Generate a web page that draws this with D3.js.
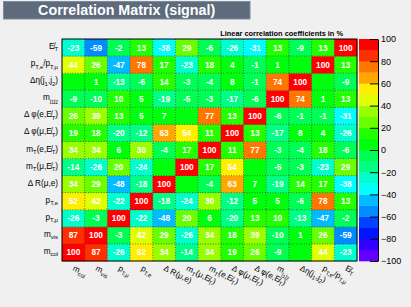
<!DOCTYPE html>
<html><head><meta charset="utf-8">
<script src="https://cdn.jsdelivr.net/npm/d3@7"></script>
<style>
html,body{margin:0;padding:0;background:#f0f0f0;}
svg{display:block;font-family:"Liberation Sans",Arial,Helvetica,sans-serif;}
</style>
</head><body>
<svg id="c" width="411" height="307"></svg>
<script>
// ---- data ----
const variables = ["m_col","m_vis","pT_mu","pT_e","dR_mu_e","mT_mu_MET","mT_e_MET",
                   "dphi_mu_MET","dphi_e_MET","m_jj","deta_jj","pTe_over_pTmu","MET"];
// correlation coefficients in %, row i / column j follow the order of `variables`
const correlations = [
  [100,  87, -26,  52,  34, -14,  34,  19,  26,  -9,   0,  44, -23],
  [ 87, 100,  -3,  42,  29, -26,  34,  18,  39, -10,   1,  26, -59],
  [-26,  -3, 100, -22, -48,  20,   6, -20,  13,  10, -13, -47,  -2],
  [ 52,  42, -22, 100, -18, -24,  30, -12,   5,   5,  -6,  78,  13],
  [ 34,  29, -48, -18, 100,   0,  -4,  63,   7, -19,  14,  17, -38],
  [-14, -26,  20, -24,   0, 100,  17,  54,   0,  -5,  -3, -23,  29],
  [ 34,  34,   6,  30,  -4,  17, 100,  11,  77,  -3,  -4,  18,  -6],
  [ 19,  18, -20, -12,  63,  54,  11, 100,  13, -17,   8,   4, -26],
  [ 26,  39,  13,   5,   7,   0,  77,  13, 100,  -6,  -1,  -1, -31],
  [ -9, -10,  10,   5, -19,  -5,  -3, -17,  -6, 100,  74,   1,  13],
  [  0,   1, -13,  -6,  14,  -3,  -4,   8,  -1,  74, 100,   0,  -9],
  [ 44,  26, -47,  78,  17, -23,  18,   4,  -1,   1,   0, 100,  13],
  [-23, -59,  -2,  13, -38,  29,  -6, -26, -31,  13,  -9,  13, 100]
];
const colorTicks = [-100,-80,-60,-40,-20,0,20,40,60,80,100];
const titleText = "Correlation Matrix (signal)";
const subtitleText = "Linear correlation coefficients in %";

// rich label segments: [text, level]  level 0 = normal, 1 = subscript, 2 = sub-subscript
const MET = "E\u0338";
const labelSegs = {
  m_col: [["m",0],["col",1]],
  m_vis: [["m",0],["vis",1]],
  pT_mu: [["p",0],["T,\u03bc",1]],
  pT_e: [["p",0],["T,e",1]],
  dR_mu_e: [["\u0394 R(\u03bc,e)",0]],
  mT_mu_MET: [["m",0],["T",1],["(\u03bc,"+MET,0],["T",1],[")",0]],
  mT_e_MET: [["m",0],["T",1],["(e,"+MET,0],["T",1],[")",0]],
  dphi_mu_MET: [["\u0394 \u03c6(\u03bc,"+MET,0],["T",1],[")",0]],
  dphi_e_MET: [["\u0394 \u03c6(e,"+MET,0],["T",1],[")",0]],
  m_jj: [["m",0],["j",1],["1",2],["j",1],["2",2]],
  deta_jj: [["\u0394\u03b7(j",0],["1",1],[",j",0],["2",1],[")",0]],
  pTe_over_pTmu: [["p",0],["T,e",1],["/p",0],["T,\u03bc",1]],
  MET: [[MET,0],["T",1]]
};

// ---- layout ----
const L = 62, R = 357, T = 39, B = 261;
const svg = d3.select("#c");

const x = d3.scaleBand().domain(variables).range([L, R]);
const y = d3.scaleBand().domain(variables).range([B, T]);

// ROOT "pretty" palette (50 colours, hue 280 -> 0) sampled into 20 contour bands
const nLev = 20;
const bandColors = d3.range(nLev).map(k => {
  const ci = Math.floor((k + 0.99) * 50 / nLev);
  const hue = 280 - (ci + 1) * (280 / 50);
  return d3.hsl(hue, 1, 0.5).formatHex();
});
const levelOf = v => Math.max(0, Math.min(nLev - 1, Math.floor(0.01 + (v + 100) * nLev / 200)));
const color = v => bandColors[levelOf(v)];

// title box
svg.append("rect").attr("x", 3.5).attr("y", 1.5).attr("width", 246.5).attr("height", 17.5)
  .attr("fill", "#5d6b7d").attr("stroke", "#7d8b9d").attr("stroke-width", 1);
svg.append("text").attr("x", 126.7).attr("y", 15.2).attr("text-anchor", "middle")
  .attr("fill", "#ffffff").attr("font-size", 14.3).attr("font-weight", "bold").text(titleText);

// subtitle
svg.append("text").attr("x", 343).attr("y", 36).attr("text-anchor", "end")
  .attr("fill", "#000").attr("font-size", 7.4).attr("font-weight", "bold").text(subtitleText);

// cells
const cells = [];
variables.forEach((vy, i) => variables.forEach((vx, j) => cells.push({vx, vy, v: correlations[i][j]})));
const g = svg.append("g");
g.selectAll("rect.cell").data(cells).join("rect").attr("class", "cell")
  .attr("x", d => x(d.vx)).attr("y", d => y(d.vy))
  .attr("width", x.bandwidth() + 0.3).attr("height", y.bandwidth() + 0.3)
  .attr("fill", d => color(d.v));

// dotted grid
const grid = svg.append("g").attr("stroke", "#222").attr("stroke-width", 0.6)
  .attr("stroke-dasharray", "1,1.6");
variables.slice(1).forEach(v => {
  grid.append("line").attr("x1", x(v)).attr("x2", x(v)).attr("y1", T).attr("y2", B);
  grid.append("line").attr("y1", y(v) + y.bandwidth()).attr("y2", y(v) + y.bandwidth()).attr("x1", L).attr("x2", R);
});

// cell texts (ROOT prints a plain hyphen, zero cells stay empty)
g.selectAll("text.val").data(cells.filter(d => d.v !== 0)).join("text").attr("class", "val")
  .attr("x", d => x(d.vx) + x.bandwidth() / 2).attr("y", d => y(d.vy) + y.bandwidth() / 2)
  .attr("dy", "0.36em").attr("text-anchor", "middle").attr("fill", "#fff")
  .attr("font-size", 8.3).attr("font-weight", "bold").text(d => String(d.v));

// frame
svg.append("rect").attr("x", L).attr("y", T).attr("width", R - L).attr("height", B - T)
  .attr("fill", "none").attr("stroke", "#000").attr("stroke-width", 1);

// rich text helper
function rich(sel, segs, fs) {
  const shift = [0, 0.3 * fs, 0.5 * fs];
  const size = [fs, 0.72 * fs, 0.6 * fs];
  let cur = 0;
  segs.forEach(([t, lv]) => {
    sel.append("tspan").attr("dy", shift[lv] - cur).attr("font-size", size[lv]).text(t);
    cur = shift[lv];
  });
}

// y labels
variables.forEach(v => {
  const t = svg.append("text").attr("x", 58).attr("y", y(v) + y.bandwidth() / 2 + 1.5)
    .attr("text-anchor", "end").attr("fill", "#000").attr("font-size", 8.2);
  rich(t, labelSegs[v], 8.2);
});

// x labels (rotated down)
variables.forEach(v => {
  const cx = x(v) + x.bandwidth() / 2 - 1, cy = 270;
  const t = svg.append("text").attr("transform", `translate(${cx},${cy}) rotate(27)`)
    .attr("text-anchor", "start").attr("fill", "#000").attr("font-size", 8.2);
  rich(t, labelSegs[v], 8.2);
});

// colour bar
const cbL = 359, cbR = 378;
const yc = d3.scaleLinear().domain([-100, 100]).range([B, T]);
const levels = d3.range(nLev).map(k => -100 + k * 200 / nLev);
svg.append("g").selectAll("rect").data(levels).join("rect")
  .attr("x", cbL).attr("width", cbR - cbL)
  .attr("y", d => yc(d + 10)).attr("height", d => yc(d) - yc(d + 10) + 0.3)
  .attr("fill", d => color(d + 5));
const cax = svg.append("g").attr("transform", `translate(${cbR},0)`)
  .call(d3.axisRight(yc).tickValues(colorTicks).tickSizeInner(-8).tickSizeOuter(0).tickPadding(3)
    .tickFormat(d => d < 0 ? "\u2212" + Math.abs(d) : String(d)));
cax.selectAll("text").attr("font-size", 9).attr("font-family", '"Liberation Sans",Arial,sans-serif').attr("fill", "#000");
cax.selectAll("line").attr("stroke", "#000");
cax.select(".domain").attr("stroke", "#000");
</script>
</body></html>
